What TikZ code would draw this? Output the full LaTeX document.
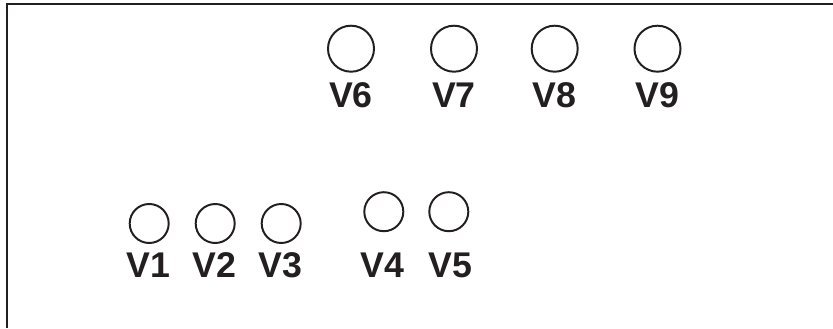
\documentclass[tikz,border=0pt]{standalone}
\usepackage{fontspec}
\setmainfont{Liberation Sans}
\usepackage{xcolor}
\usepackage{tikz}
\definecolor{ink}{HTML}{231F20}
\tikzset{
  frame/.style={draw=ink, line width=1.4pt},
  big/.style={circle, draw=ink, line width=1.4pt, minimum size=1.15cm, inner sep=0pt},
  small/.style={circle, draw=ink, line width=1.4pt, minimum size=0.975cm, inner sep=0pt},
  vlab/.style={text=ink, anchor=base, inner sep=0pt, font=\fontsize{25.4}{30}\selectfont\bfseries},
}
\begin{document}
\begin{tikzpicture}[x=0.025cm,y=-0.025cm]
  \useasboundingbox (0,0) rectangle (833,328);
  \draw[frame] (7.2,328) -- (7.2,4.3) -- (833,4.3);
  % top row
  \node[big] (v6) at (351,48.7) {};
  \node[big] (v7) at (454,48.7) {};
  \node[big] (v8) at (554.7,48.7) {};
  \node[big] (v9) at (657.5,48.7) {};
  \node[vlab] (l6) at (351,107.3) {V6};
  \node[vlab] (l7) at (454,107.3) {V7};
  \node[vlab] (l8) at (554.7,107.3) {V8};
  \node[vlab] (l9) at (657.5,107.3) {V9};
  % bottom row
  \node[small] (v1) at (149.2,223.5) {};
  \node[small] (v2) at (215.2,223.5) {};
  \node[small] (v3) at (281.2,223.5) {};
  \node[small] (v4) at (383.8,211.7) {};
  \node[small] (v5) at (448.8,211.7) {};
  \node[vlab] (l1) at (148.2,277) {V1};
  \node[vlab] (l2) at (214.7,277) {V2};
  \node[vlab] (l3) at (280.7,277) {V3};
  \node[vlab] (l4) at (382.2,277) {V4};
  \node[vlab] (l5) at (450.2,277) {V5};
\end{tikzpicture}
\end{document}
